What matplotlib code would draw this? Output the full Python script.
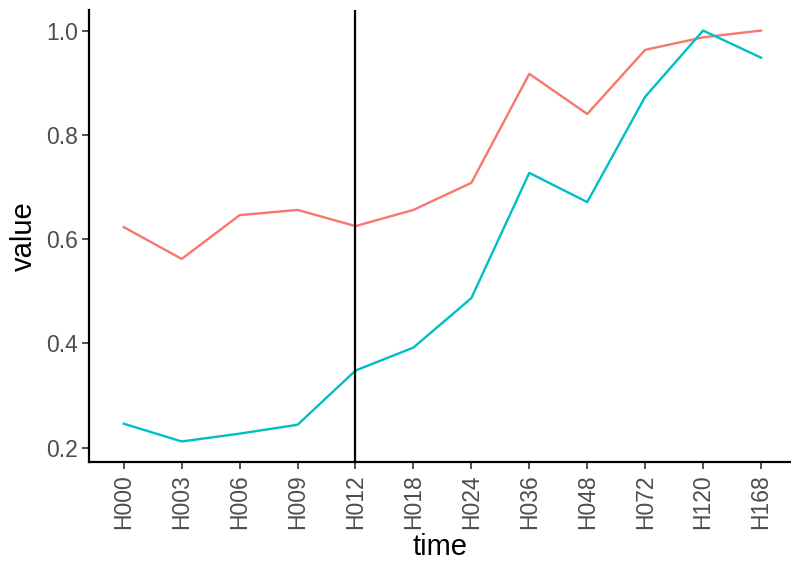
import matplotlib.pyplot as plt
import numpy as np

plt.rcParams['font.family'] = ['Liberation Sans', 'DejaVu Sans']

# Données
times = ['H000', 'H003', 'H006', 'H009', 'H012', 'H018', 'H024', 'H036',
         'H048', 'H072', 'H120', 'H168']
serie_rouge = [0.623, 0.562, 0.646, 0.656, 0.625, 0.656, 0.708, 0.917,
               0.840, 0.963, 0.987, 1.000]
serie_bleue = [0.246, 0.212, 0.227, 0.244, 0.348, 0.392, 0.487, 0.727,
               0.671, 0.873, 1.000, 0.948]
vline_time = 'H012'

fig = plt.figure(figsize=(7.91, 5.64), dpi=100)
ax = fig.add_axes([89 / 791, 102 / 564, 702 / 791, 452 / 564])

x = np.arange(len(times))
ax.plot(x, serie_rouge, color='#F8766D', linewidth=1.7)
ax.plot(x, serie_bleue, color='#00BFC4', linewidth=1.7)
ax.axvline(times.index(vline_time), color='black', linewidth=1.6)

ax.set_xlim(-0.6, 11 + 30 / 58)
ax.set_ylim(0.1726, 1.0394)
ax.set_xticks(x)
ax.set_xticklabels(times, rotation=90)
ax.set_yticks([0.2, 0.4, 0.6, 0.8, 1.0])
ax.set_yticklabels(['0.2', '0.4', '0.6', '0.8', '1.0'])

for s in ['top', 'right']:
    ax.spines[s].set_visible(False)
for s in ['left', 'bottom']:
    ax.spines[s].set_linewidth(1.6)
    ax.spines[s].set_color('black')

ax.tick_params(axis='both', length=5, width=1.2, color='#333333',
               labelsize=16.5, labelcolor='#4D4D4D')
ax.tick_params(axis='x', pad=4)
ax.tick_params(axis='y', pad=3)
ax.set_xlabel('time', fontsize=21, labelpad=3)
ax.set_ylabel('value', fontsize=21, labelpad=6)

fig.savefig('out.png', dpi=100)
